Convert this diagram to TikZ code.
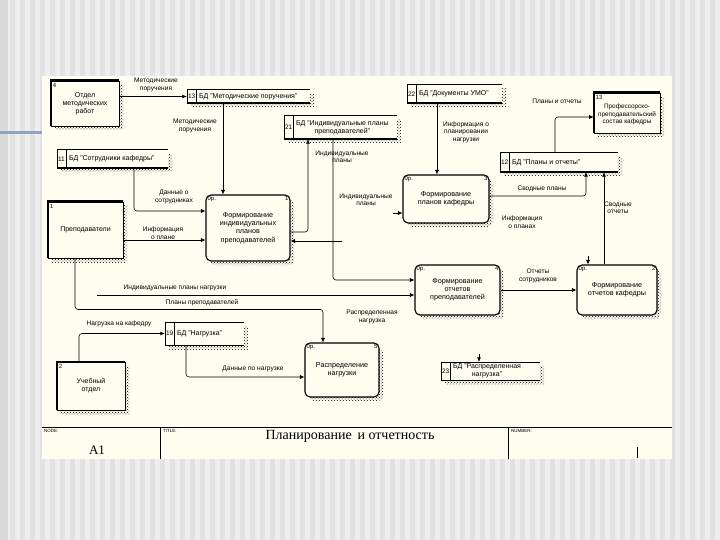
\documentclass[tikz,border=0pt]{standalone}
\usepackage{fontspec}
\setmainfont{Liberation Sans}
\newfontfamily\titlefont{Liberation Serif}
\usepackage{xcolor}
\usepackage{tikz}
\usetikzlibrary{shapes.geometric, arrows, arrows.meta, positioning, fit, calc, patterns, shadows}

\definecolor{paper}{HTML}{FFFCF0}
\definecolor{stripelight}{HTML}{EEEEEE}
\definecolor{stripedark}{HTML}{E2E2E2}
\definecolor{slideblue}{HTML}{8EA4BF}

\tikzset{
  hatch/.style={general shadow={pattern=crosshatch dots, pattern color=black, shadow xshift=4pt, shadow yshift=-4pt}},
  entity/.style={draw, line width=0.6pt, fill=paper, hatch, align=center, font=\fontsize{7}{8}\selectfont},
  process/.style={draw, line width=1.1pt, rounded corners=5pt, fill=paper, hatch, align=center, font=\fontsize{7.2}{8.2}\selectfont},
  store/.style={fill=paper, hatch, inner sep=0pt},
  sid/.style={anchor=west, inner sep=1pt, font=\fontsize{6.5}{7}\selectfont},
  stext/.style={anchor=west, xshift=11pt, inner sep=1pt, align=center, font=\fontsize{7}{8}\selectfont},
  cornerl/.style={anchor=north west, inner sep=2pt, font=\fontsize{6}{6}\selectfont},
  cornerr/.style={anchor=north east, inner sep=2pt, font=\fontsize{6}{6}\selectfont},
  flow/.style={-{Latex[length=4.5pt,width=4pt]}, line width=0.6pt, rounded corners=3pt},
  lbl/.style={align=center, inner sep=0.5pt, font=\fontsize{6.6}{7.4}\selectfont},
}

\begin{document}
\begin{tikzpicture}[x=1pt, y=-1pt]
\useasboundingbox (0,0) rectangle (720,540);
\fill[stripelight] (0,0) rectangle (720,540);
\foreach \i in {0,...,71} \fill[stripedark] (\i*10,0) rectangle (\i*10+5,540);
\fill[black!15] (0,0) rectangle (8,540);
\fill[paper] (42,76) rectangle (672,459);
\draw[slideblue, line width=3pt] (0,133) -- (42,133);

\node[entity, minimum width=68pt, minimum height=45pt, label={[cornerl]north west:4}] (ent4) at (85,103.5) {Отдел\\методических\\работ};
\node[entity, minimum width=75pt, minimum height=56pt, label={[cornerl]north west:1}] (ent1) at (85.5,230) {Преподаватели};
\node[entity, minimum width=68pt, minimum height=48pt, label={[cornerl]north west:2}] (ent2) at (91,386) {Учебный\\отдел};
\node[entity, minimum width=66pt, minimum height=40pt, inner xsep=1pt, font=\fontsize{6.4}{7.4}\selectfont, label={[cornerl]north west:13}] (ent13) at (627,113) {\\Профессорско-\\преподавательский\\состав кафедры};
\foreach \e in {ent4, ent1, ent2, ent13}
  \draw[line width=2.4pt] (\e.south west) -- (\e.north west) -- (\e.north east);

\node[process, minimum width=84pt, minimum height=66pt, label={[cornerl]north west:0р.}, label={[cornerr]north east:1}] (proc1) at (248,228) {Формирование\\индивидуальных\\планов\\преподавателей};
\node[process, minimum width=86pt, minimum height=48pt, label={[cornerl]north west:0р.}, label={[cornerr]north east:3}] (proc3) at (446,199) {Формирование\\планов кафедры};
\node[process, minimum width=85pt, minimum height=50pt, label={[cornerl]north west:0р.}, label={[cornerr]north east:4}] (proc4) at (457.5,290) {Формирование\\отчетов\\преподавателей};
\node[process, minimum width=80pt, minimum height=50pt, label={[cornerl]north west:0р.}, label={[cornerr]north east:2}] (proc2) at (617,290) {Формирование\\отчетов кафедры};
\node[process, minimum width=74pt, minimum height=54pt, label={[cornerl]north west:0р.}, label={[cornerr]north east:5}] (proc5) at (342,370) {Распределение\\нагрузки};

\node[store, minimum width=123pt, minimum height=13pt, label={[sid]west:13}, label={[stext]west:БД "Методические поручения"}] (st13) at (248.5,96.5) {};
\node[store, minimum width=113pt, minimum height=23pt, label={[sid]west:21}, label={[stext]west:БД "Индивидуальные планы\\преподавателей"}] (st21) at (340.5,127.5) {};
\node[store, minimum width=95pt, minimum height=18pt, label={[sid]west:22}, label={[stext]west:БД "Документы УМО"}] (st22) at (454.5,94) {};
\node[store, minimum width=118pt, minimum height=19pt, label={[sid]west:12}, label={[stext]west:БД "Планы и отчеты"}] (st12) at (559,162.5) {};
\node[store, minimum width=111pt, minimum height=18pt, label={[sid]west:11}, label={[stext]west:БД "Сотрудники кафедры"}] (st11) at (112.5,159) {};
\node[store, minimum width=79pt, minimum height=23pt, label={[sid]west:19}, label={[stext]west:БД "Нагрузка"}] (st19) at (204.5,333.5) {};
\node[store, minimum width=99pt, minimum height=18pt, label={[sid]west:23}, label={[stext]west:БД "Распределенная\\нагрузка"}] (st23) at (490.5,371) {};
\foreach \s in {st13, st21, st22, st12, st11, st19, st23} {
  \draw[line width=0.6pt] (\s.north east) -- (\s.north west) -- (\s.south west) -- (\s.south east);
  \draw[line width=0.6pt] ([xshift=9pt]\s.north west) -- ([xshift=9pt]\s.south west);
  \draw[line width=1.4pt] (\s.south west) -- (\s.south east);
}

\coordinate (backplan) at (342,241);
\coordinate (planload) at (97,295);

\draw[flow] (ent4.east |- st13.west) -- (st13.west);
\draw[flow] ([xshift=-25pt]proc1.north |- st13.south) -- ([xshift=-25pt]proc1.north);
\draw[flow] ([xshift=21.5pt]st11.south) |- ([yshift=17pt]proc1.west);
\draw[flow] ([yshift=-10pt]ent1.east) -- ([yshift=-10pt]ent1.east -| proc1.west);
\draw[flow] ([yshift=-4pt]proc1.east) -| ([xshift=-32.5pt]st21.south);
\draw[flow] ([xshift=-7.5pt]st21.south) |- ([yshift=10pt]proc4.west);
\draw[flow] (backplan) -- (backplan -| proc1.east);
\draw[flow] ([xshift=-9pt,yshift=-14pt]proc3.west) -- ([yshift=-14pt]proc3.west);
\draw[flow] ([xshift=-9pt]proc3.north |- st22.south) -- ([xshift=-9pt]proc3.north);
\draw[flow] ([xshift=-4pt]st12.north) |- ([yshift=-4pt]ent13.west);
\draw[flow] ([yshift=3pt]proc3.east) -| ([xshift=27pt]st12.south);
\draw[flow] ([xshift=-13pt]proc2.north) -- ([xshift=-13pt]proc2.north |- st12.south);
\draw[flow] ([xshift=-29pt,yshift=8pt]proc2.north) -- ([xshift=-29pt]proc2.north);
\draw[flow] (proc4.east) -- (proc2.west);
\draw[flow] ([xshift=-10.5pt]ent1.south) |- ([xshift=-19pt,yshift=33pt]proc5.north) -- ([xshift=-19pt]proc5.north);
\draw[flow] (planload) -- (planload -| proc4.west);
\draw[flow] ([xshift=-11.5pt,yshift=8pt]st23.north) -- ([xshift=-11.5pt]st23.north);
\draw[flow] ([xshift=-12pt]ent2.north) |- (st19.west);
\draw[flow] ([xshift=-18.5pt]st19.south) |- ([yshift=-7pt]proc5.west);

\node[lbl] (l1) at (156,85) {Методические\\поручения};
\node[lbl] (l2) at (195,126) {Методические\\поручения};
\node[lbl] (l3) at (174,197) {Данные о\\сотрудниках};
\node[lbl] (l4) at (163,233) {Информация\\о плане};
\node[lbl] (l5) at (342,157) {Индивидуальные\\планы};
\node[lbl] (l6) at (366,200) {Индивидуальные\\планы};
\node[lbl] (l7) at (466,132) {Информация о\\планировании\\нагрузки};
\node[lbl] (l8) at (557,101) {Планы и отчеты};
\node[lbl] (l9) at (542,189) {Сводные планы};
\node[lbl] (l10) at (522,222) {Информация\\о планах};
\node[lbl] (l11) at (618,208) {Сводные\\отчеты};
\node[lbl] (l12) at (538,276) {Отчеты\\сотрудников};
\node[lbl] (l13) at (175,288) {Индивидуальные планы нагрузки};
\node[lbl] (l14) at (202,303) {Планы преподавателей};
\node[lbl] (l15) at (372,317) {Распределенная\\нагрузка};
\node[lbl] (l16) at (119,324) {Нагрузка на кафедру};
\node[lbl] (l17) at (253,369) {Данные по нагрузке};

\draw[line width=0.6pt] (42,427) -- (672,427);
\draw[line width=0.6pt] (160,427) -- (160,459);
\draw[line width=0.6pt] (508,427) -- (508,459);
\draw[line width=0.6pt] (637,447) -- (637,458);
\node[anchor=north west, inner sep=1pt, font=\fontsize{4.5}{5}\selectfont] (nodetag) at (43,428) {NODE:};
\node[anchor=north west, inner sep=1pt, font=\fontsize{4.5}{5}\selectfont] (titletag) at (162,428) {TITLE:};
\node[anchor=north west, inner sep=1pt, font=\fontsize{4.5}{5}\selectfont] (numtag) at (510,428) {NUMBER:};
\node[font=\titlefont\fontsize{13}{14}\selectfont] (nodeno) at (97,450) {A1};
\node[font=\titlefont\fontsize{14}{16}\selectfont] (title) at (350,436) {Планирование\, и отчетность};
\end{tikzpicture}
\end{document}
